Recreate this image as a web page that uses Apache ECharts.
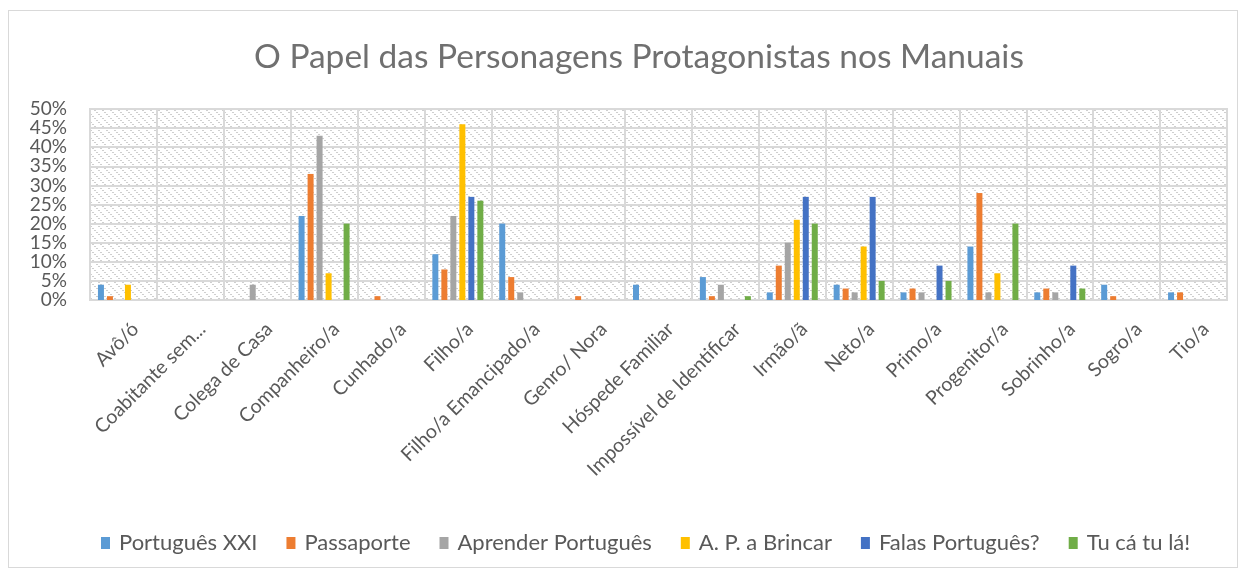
<!DOCTYPE html>
<html>
<head>
<meta charset="utf-8">
<script src="https://cdn.jsdelivr.net/npm/echarts@6/dist/echarts.min.js"></script>
<style>
  html, body { margin: 0; padding: 0; background: #fff; }
  #frame { position: absolute; left: 8px; top: 10px; width: 1230px; height: 558px; border: 1px solid #d9d9d9; box-sizing: border-box; }
  #chart { position: absolute; left: 0; top: 0; width: 1246px; height: 576px; }
</style>
</head>
<body>
<div id="frame"></div>
<div id="chart"></div>
<script>
const categorias = ['Avô/ó', 'Coabitante sem...', 'Colega de Casa', 'Companheiro/a', 'Cunhado/a', 'Filho/a',
  'Filho/a Emancipado/a', 'Genro/ Nora', 'Hóspede Familiar', 'Impossível de Identificar', 'Irmão/ã',
  'Neto/a', 'Primo/a', 'Progenitor/a', 'Sobrinho/a', 'Sogro/a', 'Tio/a']

const portuguesXXI   = [4, 0, 0, 22, 0, 12, 20, 0, 4, 6, 2, 4, 2, 14, 2, 4, 2]
const passaporte     = [1, 0, 0, 33, 1, 8, 6, 1, 0, 1, 9, 3, 3, 28, 3, 1, 2]
const aprender       = [0, 0, 4, 43, 0, 22, 2, 0, 0, 4, 15, 2, 2, 2, 2, 0, 0]
const apBrincar      = [4, 0, 0, 7, 0, 46, 0, 0, 0, 0, 21, 14, 0, 7, 0, 0, 0]
const falasPortugues = [0, 0, 0, 0, 0, 27, 0, 0, 0, 0, 27, 27, 9, 0, 9, 0, 0]
const tuCaTuLa       = [0, 0, 0, 20, 0, 26, 0, 0, 0, 1, 20, 5, 5, 20, 3, 0, 0]

const nomes = ['Português XXI', 'Passaporte', 'Aprender Português', 'A. P. a Brincar', 'Falas Português?', 'Tu cá tu lá!']
const cores = ['#5b9bd5', '#ed7d31', '#a5a5a5', '#ffc000', '#4472c4', '#70ad47']
const dados = [portuguesXXI, passaporte, aprender, apBrincar, falasPortugues, tuCaTuLa]

// padrão tracejado diagonal do fundo
const tile = document.createElement('canvas')
tile.width = 8
tile.height = 8
const ctx = tile.getContext('2d')
ctx.fillStyle = '#ffffff'
ctx.fillRect(0, 0, 8, 8)
ctx.fillStyle = '#cfcfcf'
for (let i = 0; i < 8; i++) {
  if (i % 2 === 0) ctx.fillRect(i, i, 2, 1)
}

const fonte = 'Lato'
const cinza = '#595959'

const option = {
  animation: false,
  title: {
    text: 'O Papel das Personagens Protagonistas nos Manuais',
    left: 249,
    top: 35,
    textStyle: { fontFamily: fonte, fontSize: 33.5, fontWeight: 'normal', color: '#707070' }
  },
  legend: {
    bottom: 17,
    left: 96,
    itemWidth: 9,
    itemHeight: 12,
    itemGap: 29,
    icon: 'rect',
    textStyle: { fontFamily: fonte, fontSize: 22, color: cinza, padding: [0, 0, 0, 4] }
  },
  grid: {
    left: 90,
    right: 19,
    top: 109,
    bottom: 276,
    show: true,
    borderColor: '#d9d9d9',
    borderWidth: 2,
    backgroundColor: { image: tile, repeat: 'repeat' }
  },
  xAxis: {
    type: 'category',
    data: categorias,
    axisLine: { lineStyle: { color: '#d9d9d9', width: 2 } },
    axisTick: { show: false },
    splitLine: { show: true, interval: 0, lineStyle: { color: '#d9d9d9', width: 2 } },
    axisLabel: {
      interval: 0, rotate: 45, margin: 14, align: 'right', verticalAlign: 'top', padding: [7, 0, 0, 0],
      fontFamily: fonte, fontSize: 19.5, color: cinza
    }
  },
  yAxis: {
    type: 'value',
    min: 0,
    max: 50,
    interval: 5,
    axisLine: { show: false },
    axisTick: { show: false },
    splitLine: { lineStyle: { color: '#d9d9d9', width: 2 } },
    axisLabel: { formatter: '{value}%', margin: 23, fontFamily: fonte, fontSize: 19, color: cinza }
  },
  series: nomes.map((nome, i) => ({
    name: nome,
    type: 'bar',
    data: dados[i],
    barWidth: 6,
    barGap: '50%',
    itemStyle: { color: cores[i] }
  }))
}

const chart = echarts.init(document.getElementById('chart'))
chart.setOption(option)
</script>
</body>
</html>
